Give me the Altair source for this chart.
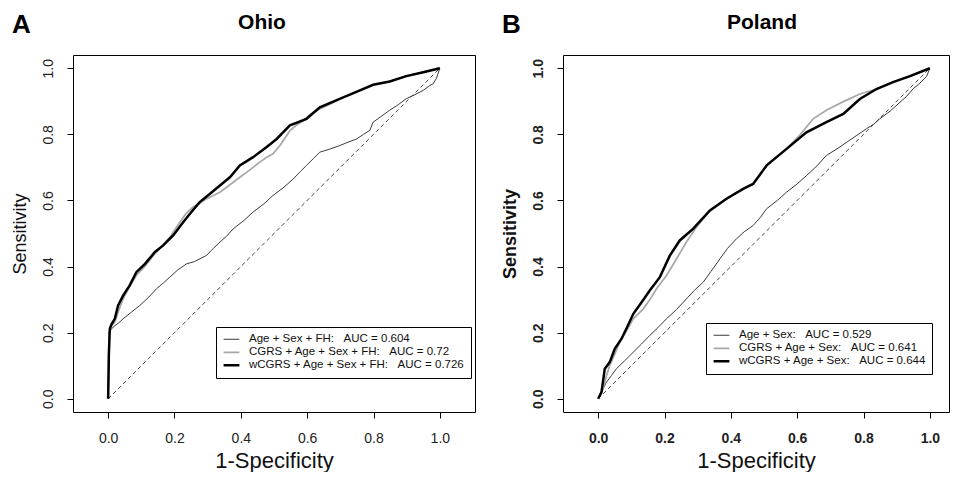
import altair as alt
import pandas as pd

FONT = "Liberation Sans"
NB = "\u00a0"

# ---------------- Ohio (panel A) ----------------
OH_LABELS = [
    "Age + Sex + FH:" + NB * 3 + "AUC = 0.604",
    "CGRS + Age + Sex + FH:" + NB * 3 + "AUC = 0.72",
    "wCGRS + Age + Sex + FH:" + NB * 3 + "AUC = 0.726",
]
OH_BASE_FPR = [0, 0.002, 0.003, 0.015, 0.03, 0.045, 0.07, 0.095, 0.12, 0.146, 0.166, 0.186, 0.21, 0.236, 0.26,
               0.297, 0.317, 0.337, 0.357, 0.377, 0.41, 0.437, 0.47, 0.497, 0.53, 0.558, 0.58, 0.598, 0.62, 0.638,
               0.67, 0.698, 0.72, 0.749, 0.77, 0.789, 0.799, 0.82, 0.849, 0.875, 0.899, 0.925, 0.95, 0.97, 0.98,
               0.99, 1.0]
OH_BASE_SENS = [0, 0.10, 0.202, 0.217, 0.228, 0.242, 0.262, 0.282, 0.305, 0.333, 0.35, 0.368, 0.39, 0.408, 0.415,
                0.434, 0.455, 0.474, 0.492, 0.514, 0.54, 0.565, 0.59, 0.615, 0.64, 0.665, 0.688, 0.706, 0.728, 0.746,
                0.756, 0.766, 0.775, 0.786, 0.80, 0.812, 0.837, 0.852, 0.873, 0.89, 0.908, 0.92, 0.933, 0.948, 0.953,
                0.97, 1.0]
OH_CGRS_FPR = [0, 0.003, 0.01, 0.02, 0.03, 0.045, 0.065, 0.085, 0.11, 0.136, 0.16, 0.186, 0.2, 0.216, 0.236, 0.256,
               0.277, 0.297, 0.317, 0.337, 0.357, 0.377, 0.397, 0.417, 0.437, 0.457, 0.477, 0.497, 0.518, 0.548,
               0.568, 0.588, 0.61, 0.638, 0.67, 0.698, 0.73, 0.759, 0.799, 0.849, 0.899, 0.95, 1.0]
OH_CGRS_SENS = [0, 0.202, 0.22, 0.232, 0.262, 0.302, 0.34, 0.373, 0.40, 0.433, 0.46, 0.489, 0.51, 0.534, 0.562, 0.58,
                0.592, 0.605, 0.615, 0.625, 0.64, 0.655, 0.67, 0.685, 0.70, 0.716, 0.73, 0.741, 0.766, 0.811,
                0.828, 0.841, 0.86, 0.877, 0.892, 0.907, 0.92, 0.933, 0.95, 0.96, 0.976, 0.988, 1.0]
OH_W_FPR = [0, 0.002, 0.005, 0.01, 0.02, 0.03, 0.045, 0.065, 0.085, 0.111, 0.141, 0.166, 0.196, 0.226, 0.246, 0.276,
            0.307, 0.337, 0.367, 0.397, 0.437, 0.477, 0.508, 0.548, 0.598, 0.638, 0.698, 0.759, 0.799, 0.849,
            0.899, 0.95, 1.0]
OH_W_SENS = [0, 0.131, 0.212, 0.225, 0.242, 0.282, 0.312, 0.343, 0.383, 0.408, 0.444, 0.464, 0.494, 0.534, 0.559,
             0.595, 0.620, 0.645, 0.670, 0.706, 0.731, 0.761, 0.786, 0.827, 0.847, 0.882, 0.907, 0.933, 0.950,
             0.960, 0.976, 0.988, 1.0]

# ---------------- Poland (panel B) ----------------
PL_LABELS = [
    "Age + Sex:" + NB * 3 + "AUC = 0.529",
    "CGRS + Age + Sex:" + NB * 3 + "AUC = 0.641",
    "wCGRS + Age + Sex:" + NB * 3 + "AUC = 0.644",
]
PL_BASE_FPR = [0, 0.01, 0.025, 0.04, 0.055, 0.08, 0.106, 0.13, 0.156, 0.18, 0.206, 0.236, 0.266, 0.29, 0.317, 0.34,
               0.367, 0.39, 0.417, 0.44, 0.467, 0.49, 0.508, 0.54, 0.568, 0.6, 0.628, 0.66, 0.688, 0.72, 0.749,
               0.78, 0.809, 0.83, 0.849, 0.88, 0.91, 0.93, 0.95, 0.97, 0.99, 1.0]
PL_BASE_SENS = [0, 0.02, 0.05, 0.07, 0.091, 0.115, 0.141, 0.165, 0.192, 0.215, 0.242, 0.27, 0.302, 0.328, 0.353,
                0.385, 0.423, 0.455, 0.484, 0.505, 0.524, 0.55, 0.575, 0.6, 0.625, 0.65, 0.675, 0.705, 0.736, 0.756,
                0.776, 0.797, 0.817, 0.83, 0.847, 0.87, 0.897, 0.915, 0.938, 0.955, 0.975, 1.0]
PL_CGRS_FPR = [0, 0.015, 0.025, 0.035, 0.05, 0.065, 0.085, 0.106, 0.136, 0.156, 0.176, 0.206, 0.236, 0.266, 0.296,
               0.337, 0.387, 0.437, 0.467, 0.508, 0.568, 0.61, 0.648, 0.688, 0.739, 0.789, 0.839, 0.889, 0.94, 1.0]
PL_CGRS_SENS = [0, 0.03, 0.07, 0.101, 0.135, 0.171, 0.205, 0.242, 0.272, 0.30, 0.333, 0.373, 0.423, 0.474, 0.519,
                0.570, 0.605, 0.635, 0.650, 0.706, 0.756, 0.80, 0.847, 0.873, 0.899, 0.922, 0.937, 0.958, 0.976, 1.0]
PL_W_FPR = [0, 0.01, 0.02, 0.035, 0.05, 0.07, 0.085, 0.106, 0.131, 0.156, 0.186, 0.216, 0.246, 0.286, 0.337, 0.387,
            0.437, 0.467, 0.508, 0.568, 0.628, 0.688, 0.739, 0.789, 0.839, 0.889, 0.94, 1.0]
PL_W_SENS = [0, 0.02, 0.091, 0.111, 0.151, 0.181, 0.212, 0.257, 0.292, 0.328, 0.368, 0.433, 0.479, 0.514, 0.570,
             0.605, 0.635, 0.650, 0.706, 0.756, 0.806, 0.837, 0.862, 0.907, 0.937, 0.958, 0.976, 1.0]

DIAG = [0.0, 1.0]
TICKS = [0.0, 0.2, 0.4, 0.6, 0.8, 1.0]
LINE_COLORS = ["#3a3a3a", "#a8a8a8", "#000000"]
LINE_WIDTHS = [1.0, 2.5, 3.4]
PLOT_H = 357


def make_df(labels, curves):
    rows = []
    for lab, (fx, sy) in zip(labels, curves):
        for i, (a, b) in enumerate(zip(fx, sy)):
            rows.append({"fpr": a, "sens": b, "model": lab, "i": i})
    return pd.DataFrame(rows)


def panel(df, labels, title, title_x, letter, width, xmax, bold, legend_y):
    weight = "bold" if bold else "normal"
    xenc = alt.X("fpr:Q",
                 scale=alt.Scale(domain=[-0.106, xmax], nice=False, zero=False),
                 axis=alt.Axis(values=TICKS, format=".1f", title="1-Specificity",
                               labelFontWeight=weight, titleFontWeight="normal"))
    yenc = alt.Y("sens:Q",
                 scale=alt.Scale(domain=[-0.04, 1.04], nice=False, zero=False),
                 axis=alt.Axis(values=TICKS, format=".1f", title="Sensitivity",
                               labelAngle=-90, labelAlign="center", labelBaseline="bottom",
                               labelFontWeight=weight, titleFontWeight=weight,
                               titleFontSize=18))
    diag = alt.Chart(pd.DataFrame({"fpr": DIAG, "sens": DIAG})).mark_line(
        color="#444444", strokeWidth=1, strokeDash=[4, 3]).encode(x=xenc, y=yenc)
    leg = alt.Legend(title=None, orient="none", legendX=143, legendY=legend_y,
                     strokeColor="black", fillColor="white", padding=6, cornerRadius=0,
                     symbolType="stroke", symbolSize=250, labelFontSize=11.5, labelFont=FONT,
                     labelColor="#111111", labelLimit=400, rowPadding=0, labelOffset=8,
                     clipHeight=12.5)
    lines = alt.Chart(df).mark_line(clip=True).encode(
        x=xenc, y=yenc,
        color=alt.Color("model:N", scale=alt.Scale(domain=labels, range=LINE_COLORS), legend=leg, sort=labels),
        strokeWidth=alt.StrokeWidth("model:N", scale=alt.Scale(domain=labels, range=LINE_WIDTHS), legend=leg,
                                    sort=labels),
        order="i:Q",
    )
    letter_mark = alt.Chart(pd.DataFrame({"t": [letter]})).mark_text(
        align="left", baseline="alphabetic", fontSize=26, fontWeight="bold", font=FONT, color="black"
    ).encode(text="t:N", x=alt.value(-61), y=alt.value(-22))
    title_mark = alt.Chart(pd.DataFrame({"t": [title]})).mark_text(
        align="center", baseline="alphabetic", fontSize=21, fontWeight="bold", font=FONT, color="black"
    ).encode(text="t:N", x=alt.value(title_x), y=alt.value(-26))
    return alt.layer(diag, lines, letter_mark, title_mark).properties(width=width, height=PLOT_H)


df_oh = make_df(OH_LABELS, [(OH_BASE_FPR, OH_BASE_SENS), (OH_CGRS_FPR, OH_CGRS_SENS), (OH_W_FPR, OH_W_SENS)])
df_pl = make_df(PL_LABELS, [(PL_BASE_FPR, PL_BASE_SENS), (PL_CGRS_FPR, PL_CGRS_SENS), (PL_W_FPR, PL_W_SENS)])

pa = panel(df_oh, OH_LABELS, "Ohio", 189, "A", 402, 1.106, False, 272)
pb = panel(df_pl, PL_LABELS, "Poland", 199, "B", 386, -0.106 + 386 / 331.7, True, 268)

chart = alt.hconcat(pa, pb, spacing=88, bounds="flush").resolve_scale(
    color="independent", strokeWidth="independent", x="independent", y="independent"
).configure(
    padding={"left": 2, "top": 3, "right": 0, "bottom": 0}
).configure_view(
    stroke="black", strokeWidth=1
).configure_axis(
    domain=False, grid=False, tickColor="black", tickSize=6, tickWidth=1,
    labelFont=FONT, labelFontSize=14, labelColor="#222222", labelPadding=13,
    titleFont=FONT, titleColor="#111111", titleFontSize=22, titlePadding=5,
).configure_axisY(
    labelPadding=12, titlePadding=12,
)

chart.save("out.html", embed_options={"renderer": "svg", "actions": False})
